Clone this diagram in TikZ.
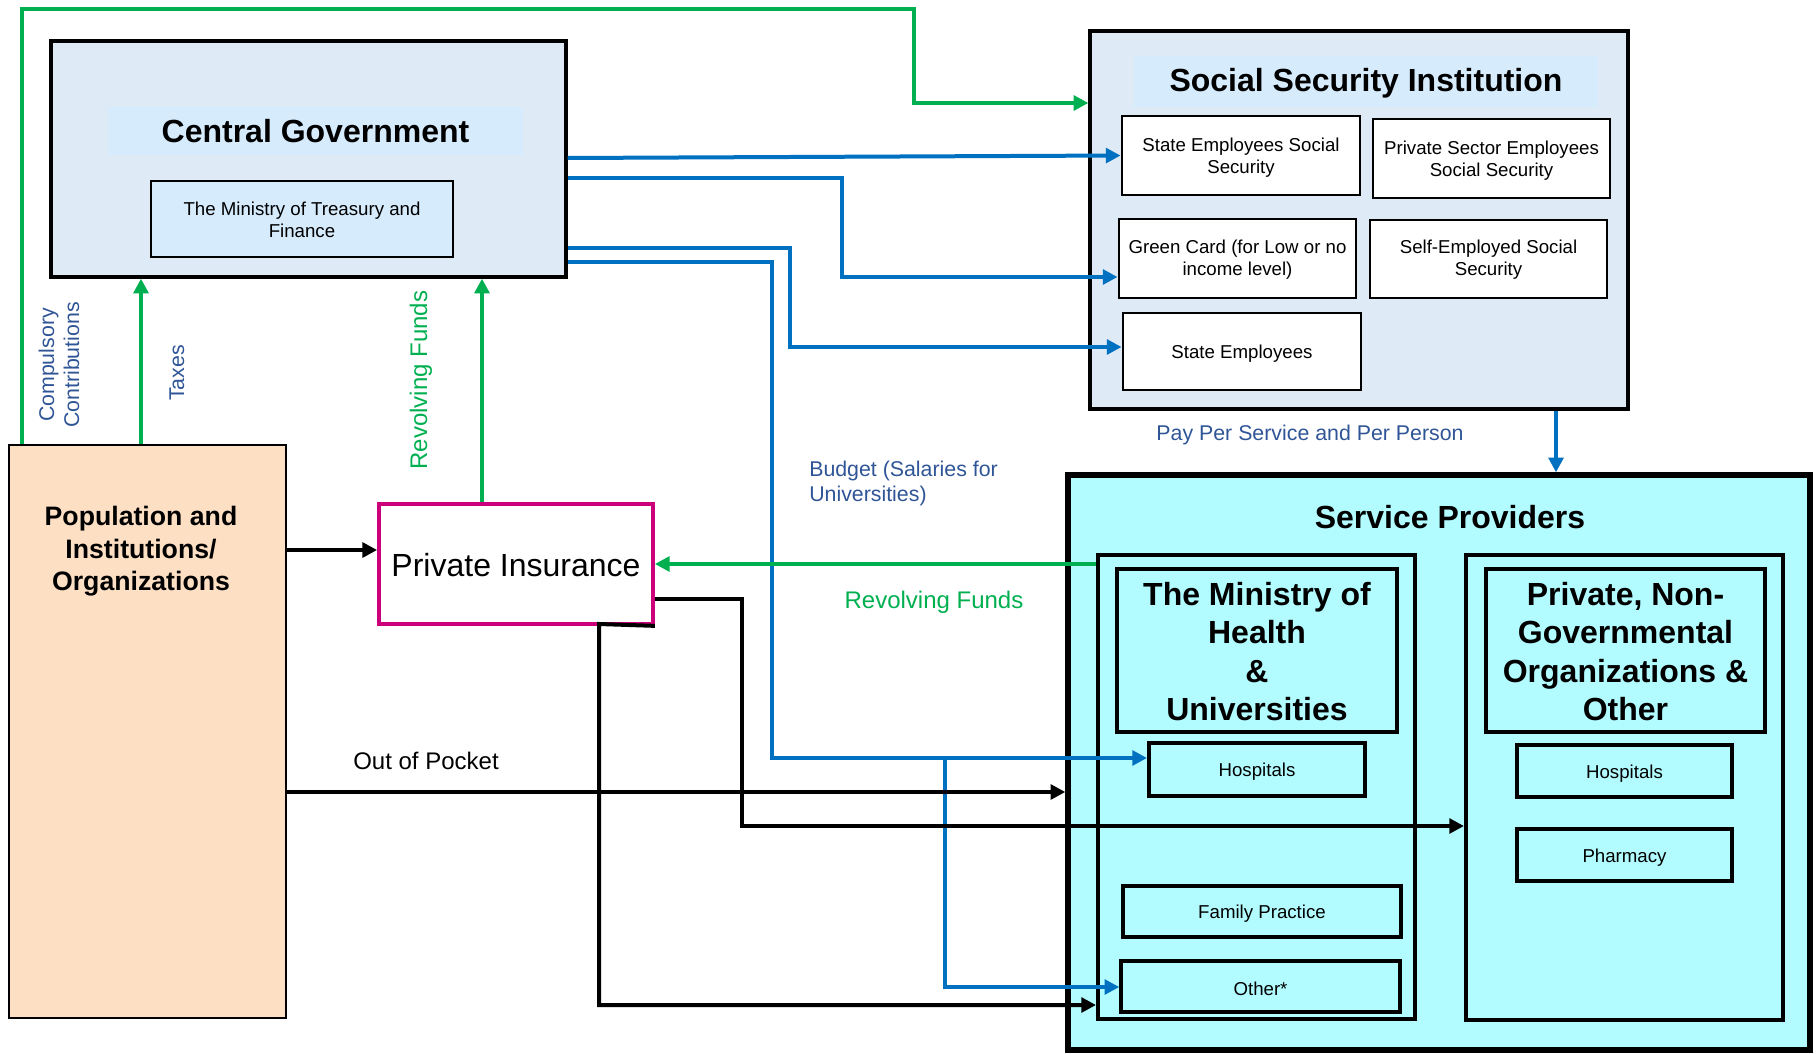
\documentclass[tikz,border=0pt]{standalone}
\usepackage{fontspec}
\setmainfont{Liberation Sans}
\usetikzlibrary{arrows.meta}
\definecolor{cgfill}{RGB}{222,234,246}
\definecolor{bandfill}{RGB}{214,235,252}
\definecolor{spfill}{RGB}{178,252,255}
\definecolor{popfill}{RGB}{253,223,196}
\definecolor{greenc}{RGB}{0,176,80}
\definecolor{bluec}{RGB}{0,112,192}
\definecolor{lblue}{RGB}{47,85,151}
\definecolor{magen}{RGB}{204,0,122}
\newcommand{\fsHuge}{\fontsize{24}{28.7}\selectfont}
\newcommand{\fsPop}{\fontsize{20}{24.4}\selectfont}
\newcommand{\fsLbl}{\fontsize{16}{18.8}\selectfont}
\newcommand{\fsMid}{\fontsize{18}{21}\selectfont}
\newcommand{\fsSm}{\fontsize{14}{16.5}\selectfont}
\newcommand{\dn}[1]{\raisebox{-1.7pt}[\height][\depth]{#1}}
\newcommand{\dnn}[1]{\raisebox{-0.8pt}[\height][\depth]{#1}}
\tikzset{
  wh/.style 2 args={minimum width=#1*0.75pt, minimum height=#2*0.75pt},
  bx/.style={draw=black, line width=2.2pt, inner sep=0pt, align=center, font=\fsSm},
  band/.style={fill=bandfill, draw=none, inner sep=0pt},
  gconn/.style={draw=greenc, line width=3pt},
  bconn/.style={draw=bluec, line width=3pt},
  kconn/.style={draw=black, line width=3pt},
  tip/.style={-{Triangle[length=11pt,width=11pt]}},
  lbl/.style={font=\fsLbl, text=lblue, inner sep=0pt, align=center},
  glbl/.style={font=\fsMid, text=greenc, inner sep=0pt, align=center}
}
\begin{document}
\begin{tikzpicture}[x=0.75pt,y=-0.75pt]
\useasboundingbox (0,0) rectangle (1816,1053);
% Central Government
\node[bx, line width=2.4pt, fill=cgfill, wh={515}{236}] (cg) at (308.5,159) {};
\node[band, wh={415}{48}, font=\fsHuge\bfseries] (cgt) at (315.5,131) {Central Government};
\node[bx, fill=bandfill, wh={302}{76}] (tr) at (302,219) {\dnn{The Ministry of Treasury and}\\\dnn{Finance}};
% Social Security Institution
\node[bx, line width=2.4pt, fill=cgfill, wh={538}{378}] (ssi) at (1359,220) {};
\node[band, wh={464}{51}, font=\fsHuge\bfseries] (ssit) at (1366,81) {\dn{Social Security Institution}};
\node[bx, fill=white, wh={238}{79}] (sess) at (1241,155.5) {\dn{State Employees Social}\\\dn{Security}};
\node[bx, fill=white, wh={237}{79}] (psess) at (1491.5,158.5) {\dn{Private Sector Employees}\\\dn{Social Security}};
\node[bx, fill=white, wh={237}{79}] (gc) at (1237.5,258.5) {\dnn{Green Card (for Low or no}\\\dnn{income level)}};
\node[bx, fill=white, wh={237}{78}] (ses) at (1488.5,259) {\dnn{Self-Employed Social}\\\dnn{Security}};
\node[bx, fill=white, wh={238}{77}] (se) at (1242,351.5) {\dn{State Employees}};
% Service Providers
\node[bx, fill=spfill, line width=4pt, wh={742}{575}] (sp) at (1439,762.5) {};
\node[font=\fsHuge\bfseries, inner sep=0pt] (spt) at (1450,517) {Service Providers};
\node[bx, line width=3pt, wh={317}{464}] (mohcol) at (1256.5,787) {};
\node[bx, line width=3pt, font=\fsHuge\bfseries, wh={280}{163}] (moh) at (1257,650.5) {\dnn{The Ministry of}\\\dnn{Health}\\\dnn{\&}\\\dnn{Universities}};
\node[bx, line width=3pt, wh={216}{53}] (hosp1) at (1257,769.5) {\dn{Hospitals}};
\node[bx, line width=2.6pt, wh={278}{51}] (fp) at (1262,911.5) {\dn{Family Practice}};
\node[bx, line width=2.6pt, wh={279}{51}] (oth) at (1260.5,986.5) {\dn{Other*}};
\node[bx, line width=3pt, wh={317}{465}] (privcol) at (1624.5,787.5) {};
\node[bx, line width=3pt, font=\fsHuge\bfseries, wh={279}{163}] (priv) at (1625.5,650.5) {\dnn{Private, Non-}\\\dnn{Governmental}\\\dnn{Organizations \&}\\\dnn{Other}};
\node[bx, line width=3pt, wh={215}{52}] (hosp2) at (1624.5,771) {\dn{Hospitals}};
\node[bx, line width=3pt, wh={215}{52}] (pharm) at (1624.5,855) {\dn{Pharmacy}};
% Population and Private Insurance
\node[bx, fill=popfill, wh={277}{573}] (pop) at (147.5,731.5) {};
\node[font=\fsPop\bfseries, align=center, inner sep=0pt] (popt) at (141,551.5) {Population and\\Institutions/\\Organizations};
\node[bx, draw=magen, line width=2.8pt, fill=white, font=\fsHuge, wh={274}{120}] (pi) at (516,564) {\dnn{Private Insurance}};
% coordinates for bends
\coordinate (k1) at (22,9);
\coordinate (k2) at (914,9);
\coordinate (k3) at (914,103);
\coordinate (tx) at (141,0);
\coordinate (rv) at (482,0);
\coordinate (pp) at (0,550);
\coordinate (b1) at (0,158);
\coordinate (b2a) at (842,178);
\coordinate (b2b) at (842,277);
\coordinate (b3a) at (790,248);
\coordinate (b3b) at (790,347);
\coordinate (b4a) at (772,262);
\coordinate (b4b) at (772,758);
\coordinate (b5a) at (945,758);
\coordinate (b5b) at (945,987);
\coordinate (ps) at (1556,0);
\coordinate (rh) at (0,564);
\coordinate (oop) at (0,792);
\coordinate (q1) at (742,599);
\coordinate (q2) at (742,826);
\coordinate (r1) at (599,624);
\coordinate (r2) at (599,1005);
% connectors
\draw[bconn,tip] (cg.east |- b1) -- (sess.west);
\draw[bconn,tip] (cg.east |- b2a) -- (b2a) -- (b2b) -- (gc.west |- b2b);
\draw[bconn,tip] (cg.east |- b3a) -- (b3a) -- (b3b) -- (se.west |- b3b);
\draw[bconn,tip] (cg.east |- b4a) -- (b4a) -- (b4b) -- (hosp1.west |- b4b);
\draw[bconn,tip] (b5a) -- (b5b) -- (oth.west |- b5b);
\draw[bconn,tip] (ssi.south -| ps) -- (sp.north -| ps);
\draw[gconn,tip] (pop.north -| k1) -- (k1) -- (k2) -- (k3) -- (ssi.west |- k3);
\draw[gconn,tip] (pop.north -| tx) -- (cg.south -| tx);
\draw[gconn,tip] (pi.north -| rv) -- (cg.south -| rv);
\draw[gconn,tip] (mohcol.west |- rh) -- (pi.east |- rh);
\draw[kconn,tip] (pop.east |- pp) -- (pi.west |- pp);
\draw[kconn,tip] (pop.east |- oop) -- (sp.west |- oop);
\draw[kconn,tip] (pi.east |- q1) -- (q1) -- (q2) -- (privcol.west |- q2);
\draw[kconn,tip] (pi.south east) -- (r1) -- (r2) -- (mohcol.west |- r2);
% labels
\node[lbl, rotate=90] (lcc) at (59,365) {Compulsory\\Contributions};
\node[lbl, rotate=90] (ltx) at (177,373) {Taxes};
\node[glbl, rotate=90] (lrv) at (421,380) {Revolving Funds};
\node[lbl, anchor=west, align=left] (lbud) at (809,483.5) {Budget (Salaries for\\Universities)};
\node[glbl] (lrh) at (934,602) {Revolving Funds};
\node[font=\fsMid, inner sep=0pt] (loop) at (426,761) {Out of Pocket};
\node[lbl] (lpay) at (1310,434.5) {Pay Per Service and Per Person};
\end{tikzpicture}
\end{document}
